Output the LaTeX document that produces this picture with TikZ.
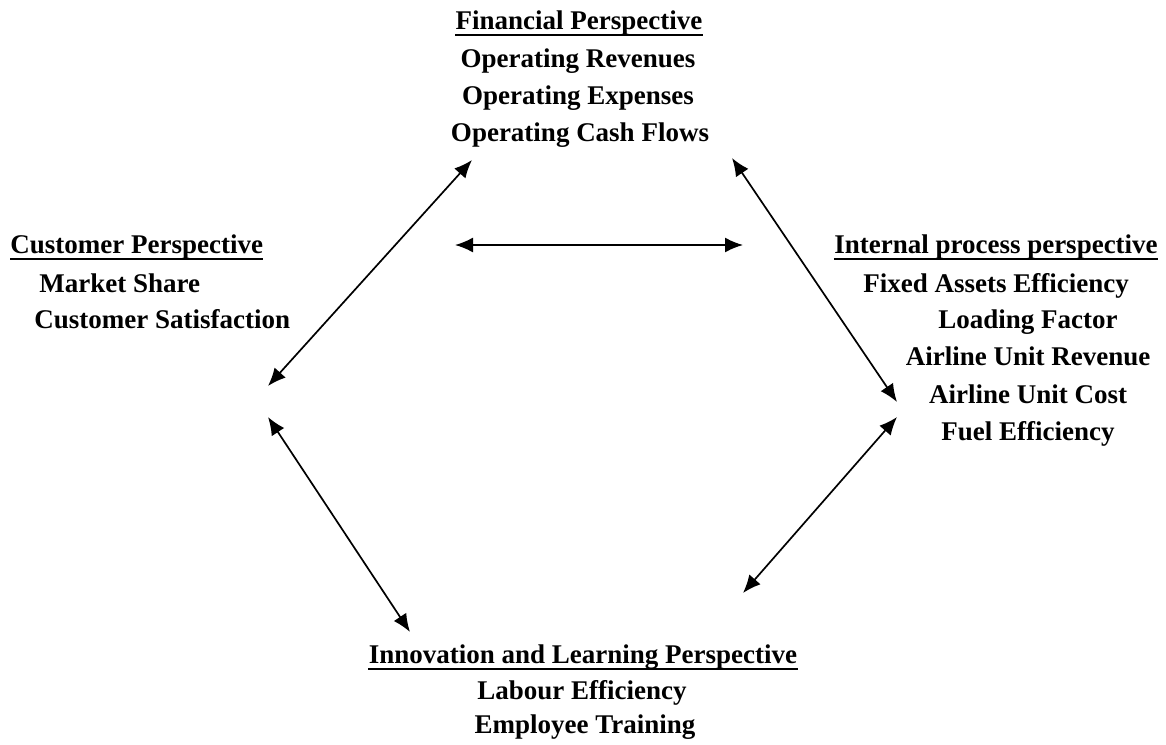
\documentclass[tikz,border=0pt]{standalone}
\usepackage{fontspec}
\setmainfont{Liberation Serif}
\usetikzlibrary{arrows.meta}
\begin{document}
\begin{tikzpicture}[x=0.5pt,y=-0.5pt,
  lbl/.style={inner sep=0pt, anchor=base, font=\fontsize{13.5}{16}\selectfont\bfseries},
  lblw/.style={lbl, anchor=base west},
  link/.style={line width=0.85pt, {Latex[length=9pt,width=7.5pt]}-{Latex[length=9pt,width=7.5pt]}},
  uline/.style={line width=1pt}]
\useasboundingbox (0,0) rectangle (1166,744);

% Financial perspective (top)
\node[lbl] (fin)  at (579,29)  {Financial Perspective};
\node[lbl] (fin1) at (578,67)  {Operating Revenues};
\node[lbl] (fin2) at (578,104) {Operating Expenses};
\node[lbl] (fin3) at (580,141) {Operating Cash Flows};

% Customer perspective (left)
\node[lblw] (cus)  at (10,253) {Customer Perspective};
\node[lblw] (cus1) at (39,292) {Market Share};
\node[lblw] (cus2) at (34,328) {Customer Satisfaction};

% Internal process perspective (right)
\node[lbl] (int)  at (996,253)  {Internal process perspective};
\node[lbl] (int1) at (996,292)  {Fixed Assets Efficiency};
\node[lbl] (int2) at (1028,328) {Loading Factor};
\node[lbl] (int3) at (1028,365) {Airline Unit Revenue};
\node[lbl] (int4) at (1028,403) {Airline Unit Cost};
\node[lbl] (int5) at (1028,440) {Fuel Efficiency};

% Innovation and learning perspective (bottom)
\node[lbl] (inn)  at (583,663) {Innovation and Learning Perspective};
\node[lbl] (inn1) at (582,699) {Labour Efficiency};
\node[lbl] (inn2) at (585,733) {Employee Training};

% underlined headings
\foreach \h in {fin,cus,int,inn}
  \draw[uline] ([yshift=-2.75pt]\h.base west) -- ([yshift=-2.75pt]\h.base east);

% arrow end points
\coordinate (finL) at (472,160);
\coordinate (finR) at (732,158);
\coordinate (midL) at (455,245);
\coordinate (midR) at (743,245);
\coordinate (cusT) at (268,386);
\coordinate (cusB) at (268,417);
\coordinate (intT) at (897,402);
\coordinate (intB) at (897,417);
\coordinate (innL) at (410,632);
\coordinate (innR) at (743,593);

% two-way links
\draw[link] (finL) -- (cusT);
\draw[link] (midL) -- (midR);
\draw[link] (finR) -- (intT);
\draw[link] (cusB) -- (innL);
\draw[link] (intB) -- (innR);
\end{tikzpicture}
\end{document}
